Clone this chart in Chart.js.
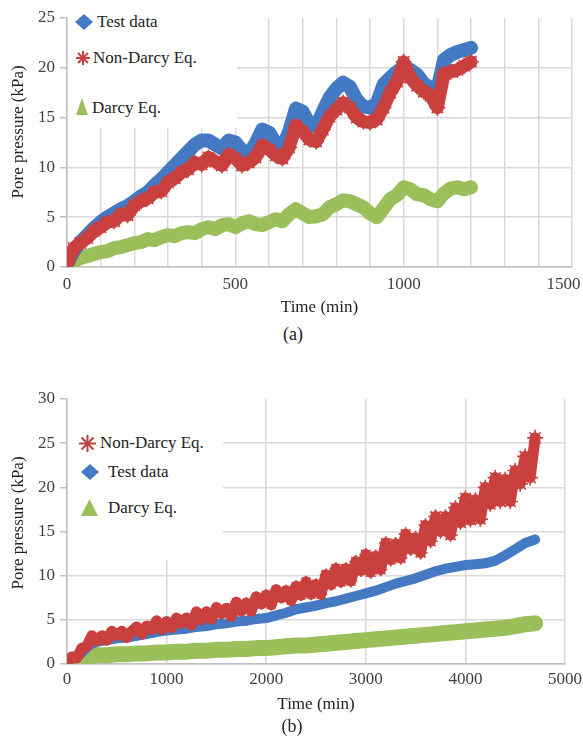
<!DOCTYPE html>
<html><head><meta charset="utf-8">
<script src="https://cdn.jsdelivr.net/npm/chart.js@4.4.1/dist/chart.umd.min.js"></script>
<style>
html,body{margin:0;padding:0;background:#fff;width:583px;height:736px;overflow:hidden;font-family:'Liberation Serif','DejaVu Serif',serif;color:#222}
.wrap{position:absolute;left:0;width:583px}
canvas{display:block}
.legend{position:absolute;background:#fff}
.item{position:absolute;font-size:17px;white-space:nowrap;line-height:20px;height:20px}
.mk{position:absolute;display:block}
.cap{position:absolute;font-size:18px;width:60px;text-align:center;line-height:22px}
</style></head>
<body>
<div class="wrap" style="top:0;height:322px"><canvas id="ca" width="583" height="322"></canvas></div>
<div class="wrap" style="top:380px;height:339px"><canvas id="cb" width="583" height="339"></canvas></div>

<div class="legend" style="left:68px;top:0;width:169px;height:128px"></div>
<svg class="mk" style="left:75px;top:14px" width="18" height="16"><polygon points="9,0 18,8 9,16 0,8" fill="#4479c4"/></svg>
<div class="item" style="left:97px;top:12px">Test data</div>
<svg class="mk" style="left:75px;top:50px" width="16" height="16"><g stroke="#c9403f" stroke-width="2"><line x1="8" y1="1" x2="8" y2="15"/><line x1="1" y1="8" x2="15" y2="8"/><line x1="3" y1="3" x2="13" y2="13"/><line x1="13" y1="3" x2="3" y2="13"/></g></svg>
<div class="item" style="left:93px;top:48px">Non-Darcy Eq.</div>
<svg class="mk" style="left:76px;top:98px" width="12" height="17"><polygon points="6,0 12,17 0,17" fill="#9bbf5a"/></svg>
<div class="item" style="left:92px;top:98px">Darcy Eq.</div>
<div class="cap" style="left:263px;top:323px">(a)</div>

<div class="legend" style="left:68px;top:398px;width:155px;height:162px"></div>
<svg class="mk" style="left:78px;top:434px" width="19" height="19"><g stroke="#b8403f" stroke-width="2"><line x1="9.5" y1="1" x2="9.5" y2="18"/><line x1="1" y1="9.5" x2="18" y2="9.5"/><line x1="3.5" y1="3.5" x2="15.5" y2="15.5"/><line x1="15.5" y1="3.5" x2="3.5" y2="15.5"/></g></svg>
<div class="item" style="left:100px;top:433px">Non-Darcy Eq.</div>
<svg class="mk" style="left:81px;top:464px" width="18" height="16"><polygon points="9,0 18,8 9,16 0,8" fill="#4479c4"/></svg>
<div class="item" style="left:108px;top:462px">Test data</div>
<svg class="mk" style="left:81px;top:499px" width="17" height="17"><polygon points="8.5,0 17,17 0,17" fill="#9bbf5a"/></svg>
<div class="item" style="left:108px;top:498px">Darcy Eq.</div>
<div class="cap" style="left:262px;top:715px">(b)</div>

<script>
// ---------- Chart (a) data ----------
const timeA = [0,20,40,60,80,100,120,140,160,180,200,220,240,260,280,300,320,340,360,380,400,420,440,460,480,500,520,540,560,580,600,620,640,660,680,700,720,740,760,780,800,820,840,860,880,900,920,940,960,980,1000,1020,1040,1060,1080,1100,1120,1140,1160,1180,1200];
const testA = [0.3,1.6,2.5,3.2,3.9,4.5,5.0,5.4,5.8,6.1,6.6,7.1,7.5,8.2,8.8,9.5,10.2,10.9,11.6,12.3,12.7,12.7,12.3,11.9,12.7,12.5,11.7,11.3,12.4,13.8,13.5,12.4,12.0,13.6,15.9,15.6,14.3,14.1,15.6,17.0,17.9,18.5,18.1,16.8,16.1,16.0,16.4,18.3,19.0,19.6,20.1,19.8,19.3,18.4,18.0,17.8,20.8,21.3,21.6,21.8,22.0];
const nonDarcyA = [0.3,1.9,2.4,2.9,3.6,4.0,4.5,4.6,5.3,5.2,6.2,6.6,6.9,7.5,7.6,8.5,8.9,9.5,9.8,10.5,10.3,11.0,10.6,10.2,11.3,10.9,10.2,10.5,11.0,12.2,11.8,11.2,10.9,12.0,14.2,13.6,12.8,12.6,13.8,15.1,15.8,16.5,16.0,15.0,14.6,14.5,14.8,16.0,17.5,18.6,20.6,19.0,18.2,17.6,17.2,16.0,19.4,19.6,19.8,20.2,20.6];
const darcyA = [0.0,0.6,0.9,1.1,1.3,1.5,1.6,1.9,2.0,2.2,2.4,2.5,2.8,2.7,3.0,3.2,3.1,3.4,3.5,3.4,3.8,4.0,3.8,4.2,4.3,4.0,4.4,4.6,4.3,4.2,4.5,4.8,4.6,5.3,5.8,5.4,5.0,5.1,5.3,6.0,6.3,6.7,6.6,6.3,6.0,5.4,5.0,5.9,6.8,7.2,8.0,7.8,7.3,7.2,6.8,6.6,7.4,7.9,8.0,7.8,8.0];
const gridXA = [0,100,200,300,400,500,600,700,800,900,1000,1100,1200,1300,1400,1500];
const labelXA = [0,500,1000,1500];
const ticksYA = [0,5,10,15,20,25];

// ---------- Chart (b) data ----------
const timeB = [0,50,100,150,200,250,300,400,500,600,700,800,900,1000,1100,1200,1300,1400,1500,1600,1700,1800,1900,2000,2100,2200,2300,2400,2500,2600,2700,2800,2900,3000,3100,3200,3300,3400,3500,3600,3700,3800,3900,4000,4100,4200,4300,4400,4500,4600,4700];
const testB = [0.2,0.6,0.8,1.3,1.9,2.3,2.5,2.7,2.9,3.0,3.2,3.4,3.6,3.8,3.9,4.0,4.2,4.3,4.5,4.6,4.8,4.9,5.1,5.2,5.5,5.8,6.2,6.4,6.6,6.9,7.1,7.4,7.7,8.0,8.3,8.7,9.1,9.4,9.7,10.1,10.5,10.8,11.0,11.2,11.3,11.4,11.7,12.3,13.0,13.7,14.1];
const darcyB = [0.1,0.4,0.5,0.7,0.8,0.9,1.0,1.0,1.1,1.1,1.2,1.2,1.3,1.3,1.4,1.4,1.5,1.5,1.6,1.6,1.7,1.7,1.8,1.8,1.9,2.0,2.1,2.1,2.2,2.3,2.4,2.5,2.6,2.7,2.8,2.9,3.0,3.1,3.2,3.3,3.4,3.5,3.6,3.7,3.8,3.9,4.0,4.1,4.3,4.5,4.6];
const timeNonDarcyB = [0,50,100,150,200,250,300,350,400,450,500,550,600,650,700,750,800,850,900,950,1000,1050,1100,1150,1200,1250,1300,1350,1400,1450,1500,1550,1600,1650,1700,1750,1800,1850,1900,1950,2000,2050,2100,2150,2200,2250,2300,2350,2400,2450,2500,2550,2600,2650,2700,2750,2800,2850,2900,2950,3000,3050,3100,3150,3200,3250,3300,3350,3400,3450,3500,3550,3600,3650,3700,3750,3800,3850,3900,3950,4000,4050,4100,4150,4200,4250,4300,4350,4400,4450,4500,4550,4600,4650,4700];
const nonDarcyB = [0.3,0.8,0.7,1.8,2.0,3.2,2.6,3.2,2.7,3.7,3.2,3.7,3.0,3.7,4.2,3.4,4.3,3.9,4.9,3.9,4.8,4.1,5.2,4.6,5.2,4.4,5.9,5.0,5.9,5.1,6.4,5.7,6.3,5.4,7.0,6.0,6.9,6.0,7.6,6.8,7.8,6.7,8.4,7.5,8.3,7.2,8.8,7.8,9.3,7.9,9.0,7.9,10.1,9.0,10.8,9.3,10.8,9.4,11.6,10.6,12.4,10.4,12.2,10.7,13.7,11.8,13.6,12.0,14.7,13.0,14.3,12.6,15.7,13.9,16.7,15.0,16.7,14.6,17.7,16.0,18.8,16.3,18.6,16.4,20.0,18.1,21.1,18.4,20.9,18.4,21.9,20.4,23.5,21.1,25.6];
const gridXB = [0,1000,2000,3000,4000,5000];
const ticksYB = [0,5,10,15,20,25,30];

const seriesNames = ['Test data','Non-Darcy Eq.','Darcy Eq.'];
const BLUE='#4479c4', RED='#c9403f', GREEN='#9bbf5a';
const FONT="'Liberation Serif','DejaVu Serif',serif";
const GRID='#d9d9d9', AXIS='#bfbfbf';

function pts(xs, ys){ return xs.map((x,i)=>({x:x, y:ys[i]})); }

function yScale(ticks, lead){
  const max = ticks[ticks.length-1];
  return {
    type:'linear', min:ticks[0], max:max,
    afterBuildTicks: s => { s.ticks = ticks.map(v=>({value:v})); },
    ticks:{color:'#404040', font:{family:FONT,size:17}, padding:5},
    grid:{color: c => (c.tick && c.tick.value===max) ? 'rgba(0,0,0,0)' : GRID, lineWidth:1.5, tickLength:7, tickColor:AXIS, tickWidth:1.5},
    border:{color:AXIS, width:1.5},
    title:{display:true, text: lead + 'Pore pressure (kPa)', color:'#222', font:{family:FONT,size:17}, padding:{top:8,bottom:4}},
    afterFit: s => { s.width = 67; s.paddingTop = 0; s.paddingBottom = 0; }
  };
}
function xScale(grid, labels, pad, lastPad){
  const last = grid[grid.length-1];
  return {
    type:'linear', min:grid[0], max:last,
    afterBuildTicks: s => { s.ticks = grid.map(v=>({value:v})); },
    ticks:{color:'#404040', font:{family:FONT,size:17}, padding:pad, autoSkip:false, maxRotation:0,
           callback: v => labels.includes(v) ? (v===last ? String(v)+lastPad : String(v)) : ''},
    grid:{color:GRID, lineWidth:1.5, drawTicks:false},
    border:{color:AXIS, width:1.5},
    title:{display:true, text:'Time (min)', color:'#222', font:{family:FONT,size:17}, padding:{top:4,bottom:4}},
    afterFit: s => { s.height = 55; s.paddingLeft = 0; s.paddingRight = 0; }
  };
}

function ds(label, data, color, style, lw, r, order, extra){
  return Object.assign({
    label:label, data:data, showLine:true, order:order,
    borderColor:color, borderWidth:lw, tension:0, borderJoinStyle:'round', borderCapStyle:'round',
    pointStyle:style, pointRadius:r, pointBackgroundColor:color, pointBorderColor:color,
    pointBorderWidth: style==='star' ? 1.6 : 0
  }, extra || {});
}

const common = {
  responsive:false, animation:false, devicePixelRatio:1,
  plugins:{legend:{display:false}, tooltip:{enabled:false}}
};

new Chart(document.getElementById('ca'), {
  type:'scatter',
  data:{datasets:[
    ds(seriesNames[0], pts(timeA,testA), BLUE, 'rectRot', 14, 6, 1),
    ds(seriesNames[1], pts(timeA,nonDarcyA), RED, 'star', 13, 8, 0),
    ds(seriesNames[2], pts(timeA,darcyA), GREEN, 'triangle', 14, 7, 2)
  ]},
  options:Object.assign({}, common, {
    layout:{padding:{left:0, top:18, right:11, bottom:0}},
    scales:{x:xScale(gridXA, labelXA, 7, '\u2007\u2007'), y:yScale(ticksYA, '\u2002\u2002 ')}
  })
});

new Chart(document.getElementById('cb'), {
  type:'scatter',
  data:{datasets:[
    ds(seriesNames[1], pts(timeNonDarcyB,nonDarcyB), RED, 'star', 11, 5, 0, {
      pointRadius: c => 4 + 4 * (c.dataIndex / 94)
    }),
    ds(seriesNames[0], pts(timeB,testB), BLUE, 'rectRot', 10, 5, 1),
    ds(seriesNames[2], pts(timeB,darcyB), GREEN, 'triangle', 16, 6, 2)
  ]},
  options:Object.assign({}, common, {
    layout:{padding:{left:0, top:19, right:18, bottom:0}},
    scales:{x:xScale(gridXB, gridXB, 5, ''), y:yScale(ticksYB, '\u2002\u2002')}
  })
});
</script>
</body></html>
